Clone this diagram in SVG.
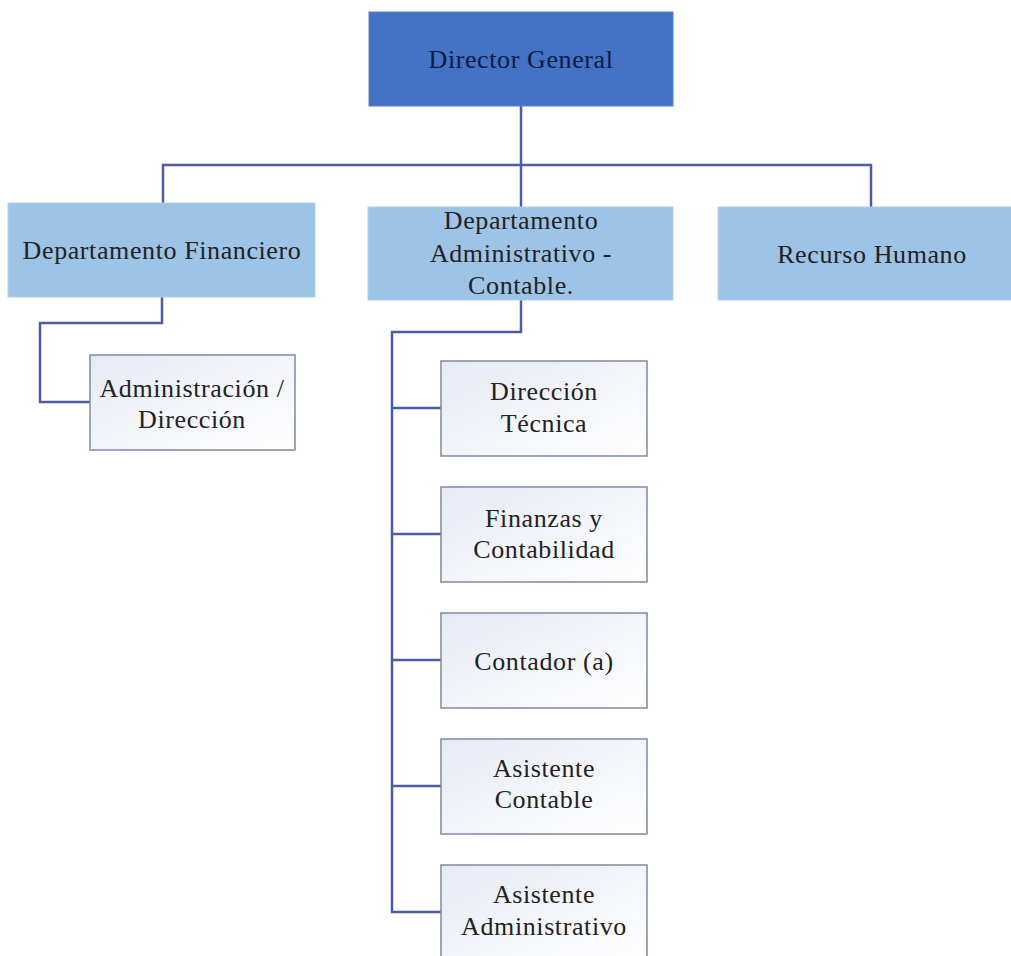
<svg xmlns="http://www.w3.org/2000/svg" width="1011" height="956" viewBox="0 0 1011 956">
<defs>
<linearGradient id="subg" x1="0" y1="0" x2="1" y2="1">
<stop offset="0" stop-color="#e6eaf4"/>
<stop offset="1" stop-color="#ffffff"/>
</linearGradient>
<style>
.t{font-family:"Liberation Serif","Times New Roman",serif;font-size:26px;letter-spacing:0.6px;fill:#222;text-anchor:middle}
.top{fill:#4472c4;stroke:#5a7fc8;stroke-width:1}
.dept{fill:#9dc3e6;stroke:#b3d0ea;stroke-width:1}
.sub{fill:url(#subg);stroke:#7e8aa0;stroke-width:1.5}
.c{fill:none;stroke:#4d5ca6;stroke-width:2.5}
</style>
</defs>
<rect width="1011" height="956" fill="#ffffff"/>
<g id="connectors">
<path class="c" d="M521,106 V165 M163,203 V165 H871 V207 M521,165 V207"/>
<path class="c" d="M162,297 V323 H40 V402 H90"/>
<path class="c" d="M521,300 V332 H392 V912 H441 M392,408 H441 M392,534 H441 M392,660 H441 M392,786 H441"/>
</g>
<g id="director-general">
<rect class="top" x="369" y="12" width="304" height="94"/>
<text class="t" x="521" y="68" style="fill:#0d1a45">Director General</text>
</g>
<g id="dept-financiero">
<rect class="dept" x="8" y="203" width="307" height="94"/>
<text class="t" x="162" y="259">Departamento Financiero</text>
</g>
<g id="dept-administrativo">
<rect class="dept" x="368" y="207" width="305" height="93"/>
<text class="t" x="521" y="229">Departamento</text>
<text class="t" x="521" y="262">Administrativo -</text>
<text class="t" x="521" y="294">Contable.</text>
</g>
<g id="recurso-humano">
<rect class="dept" x="718" y="207" width="306" height="93"/>
<text class="t" x="872" y="263">Recurso Humano</text>
</g>
<g id="administracion">
<rect class="sub" x="90" y="355" width="205" height="95"/>
<text class="t" x="192" y="397">Administración /</text>
<text class="t" x="192" y="428">Dirección</text>
</g>
<g id="direccion-tecnica">
<rect class="sub" x="441" y="361" width="206" height="95"/>
<text class="t" x="544" y="400">Dirección</text>
<text class="t" x="544" y="432">Técnica</text>
</g>
<g id="finanzas">
<rect class="sub" x="441" y="487" width="206" height="95"/>
<text class="t" x="544" y="527">Finanzas y</text>
<text class="t" x="544" y="558">Contabilidad</text>
</g>
<g id="contador">
<rect class="sub" x="441" y="613" width="206" height="95"/>
<text class="t" x="544" y="670">Contador (a)</text>
</g>
<g id="asistente-contable">
<rect class="sub" x="441" y="739" width="206" height="95"/>
<text class="t" x="544" y="777">Asistente</text>
<text class="t" x="544" y="808">Contable</text>
</g>
<g id="asistente-administrativo">
<rect class="sub" x="441" y="865" width="206" height="95"/>
<text class="t" x="544" y="903">Asistente</text>
<text class="t" x="544" y="935">Administrativo</text>
</g>
</svg>
